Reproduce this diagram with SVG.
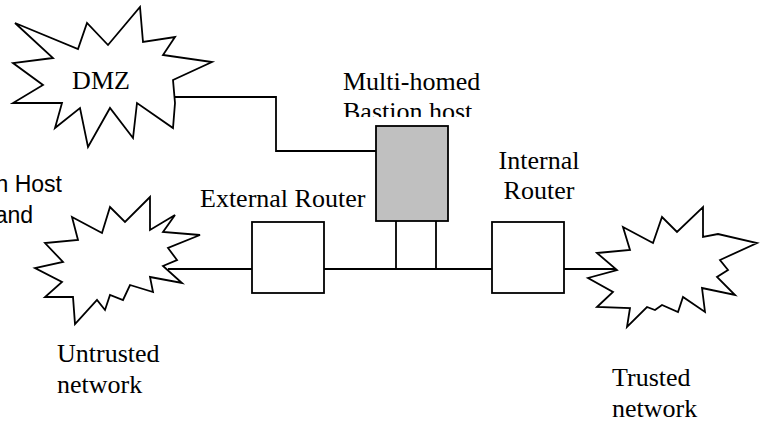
<svg xmlns="http://www.w3.org/2000/svg" width="760" height="433" viewBox="0 0 760 433">
<style>
.s{fill:#fff;stroke:#000;stroke-width:1.8;stroke-linejoin:miter}
.b{fill:#fff;stroke:#000;stroke-width:1.8}
.c{fill:none;stroke:#000;stroke-width:1.8}
.t{font-family:"Liberation Serif","Times New Roman",serif;font-size:26px;fill:#000}
.a{font-family:"Liberation Sans",Arial,sans-serif;font-size:23px;fill:#000}
</style>
<defs>
<clipPath id="clipB"><rect x="300" y="60" width="220" height="57"/></clipPath>
</defs>
<rect width="760" height="433" fill="#fff"/>
<g id="connectors">
<polyline class="c" points="175,97 276,97 276,151 376,151"/>
<line class="c" x1="168" y1="269" x2="615" y2="269"/>
<line class="c" x1="396" y1="221" x2="396" y2="269"/>
<line class="c" x1="436" y1="221" x2="436" y2="269"/>
</g>
<g id="dmz">
<polygon class="s" points="15,23 78,49 87,23 108,45 140,7 143,42 175,37 163,55 212,62 173,80 175,103 173,128 137,103 133,138 110,108 88,147 80,108 55,128 62,103 13,103 43,85 13,63 53,58"/>
<text class="t" x="101" y="89" text-anchor="middle">DMZ</text>
</g>
<g id="untrusted">
<polygon class="s" points="72,217 102,233 110,207 125,222 150,197 150,230 175,215 163,232 200,235 168,248 177,260 163,266 182,283 150,277 153,292 130,285 123,300 110,295 105,310 97,300 75,324 73,297 45,297 62,282 35,268 63,262 45,243 78,240"/>
<text class="t" x="57" y="362">Untrusted</text>
<text class="t" x="57" y="393">network</text>
</g>
<g id="trusted">
<polygon class="s" points="597,253 630,250 623,227 653,243 662,217 677,232 703,207 703,237 718,234 757,243 720,260 728,270 717,277 735,295 702,288 705,312 683,297 678,312 662,305 655,310 647,307 627,327 630,308 597,307 613,292 588,278 617,270"/>
<text class="t" x="612" y="386">Trusted</text>
<text class="t" x="612" y="417">network</text>
</g>
<g id="external-router">
<rect class="b" x="252" y="222" width="72" height="71"/>
<text class="t" x="200" y="207">External Router</text>
</g>
<g id="internal-router">
<rect class="b" x="492" y="222" width="72" height="71"/>
<text class="t" x="539" y="169" text-anchor="middle">Internal</text>
<text class="t" x="539" y="199" text-anchor="middle">Router</text>
</g>
<g id="bastion">
<rect x="376" y="126" width="72" height="95" fill="#c0c0c0" stroke="#000" stroke-width="1.8"/>
<text class="t" x="343" y="90">Multi-homed</text>
<text class="t" x="343" y="120" clip-path="url(#clipB)">Bastion host</text>
</g>
<g id="partial-text">
<text class="a" x="62" y="192" text-anchor="end">n Host</text>
<text class="a" x="33" y="223" text-anchor="end">and</text>
</g>
</svg>
